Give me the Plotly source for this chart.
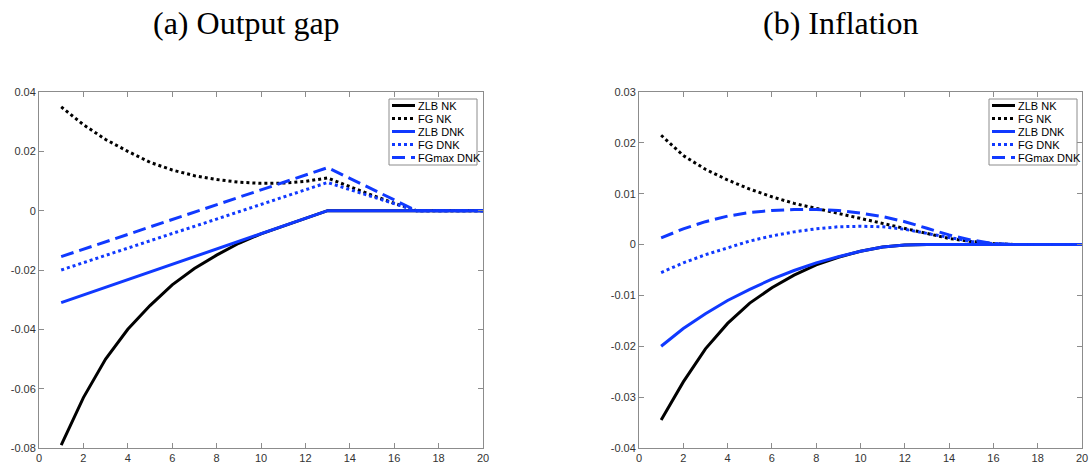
import plotly.graph_objects as go
from plotly.subplots import make_subplots

periods = list(range(1, 21))

# (a) Output gap
gap_zlb_nk = [-0.079, -0.063, -0.050, -0.040, -0.032, -0.025, -0.0195, -0.0150, -0.0110, -0.0078,
              -0.0052, -0.0026, 0, 0, 0, 0, 0, 0, 0, 0]
gap_fg_nk = [0.035, 0.029, 0.024, 0.020, 0.0163, 0.0137, 0.0118, 0.0105, 0.0096, 0.0092,
             0.0093, 0.0099, 0.0110, 0.0080, 0.0052, 0.0025, 0, 0, 0, 0]
gap_zlb_dnk = [-0.0310, -0.0284, -0.0258, -0.0233, -0.0207, -0.0181, -0.0155, -0.0129, -0.0103, -0.0078,
               -0.0052, -0.0026, 0, 0, 0, 0, 0, 0, 0, 0]
gap_fg_dnk = [-0.0200, -0.0175, -0.0151, -0.0126, -0.0102, -0.0077, -0.0053, -0.0028, -0.0004, 0.0021,
              0.0045, 0.0070, 0.0095, 0.0071, 0.0048, 0.0024, 0, 0, 0, 0]
gap_fgmax_dnk = [-0.0155, -0.0130, -0.0105, -0.0080, -0.0055, -0.0030, -0.0005, 0.0020, 0.0045, 0.0070,
                 0.0095, 0.0120, 0.0145, 0.0109, 0.0073, 0.0036, 0, 0, 0, 0]

# (b) Inflation
inf_zlb_nk = [-0.0345, -0.0270, -0.0205, -0.0155, -0.0115, -0.0085, -0.0060, -0.0040, -0.0025, -0.0013,
              -0.0005, -0.0001, 0, 0, 0, 0, 0, 0, 0, 0]
inf_fg_nk = [0.0215, 0.0175, 0.0148, 0.0127, 0.0109, 0.0094, 0.0081, 0.0071, 0.0061, 0.0051,
             0.0041, 0.0031, 0.0021, 0.0012, 0.0006, 0.0002, 0, 0, 0, 0]
inf_zlb_dnk = [-0.0200, -0.0165, -0.0136, -0.0110, -0.0088, -0.0068, -0.0051, -0.0036, -0.0024, -0.0013,
               -0.0005, -0.0001, 0, 0, 0, 0, 0, 0, 0, 0]
inf_fg_dnk = [-0.0055, -0.0036, -0.0020, -0.0006, 0.0007, 0.0017, 0.0025, 0.0031, 0.0035, 0.0036,
              0.0035, 0.0030, 0.0022, 0.0013, 0.0006, 0.0002, 0, 0, 0, 0]
inf_fgmax_dnk = [0.0013, 0.0031, 0.0045, 0.0056, 0.0063, 0.0067, 0.0069, 0.0069, 0.0067, 0.0062,
                 0.0055, 0.0045, 0.0032, 0.0019, 0.0009, 0.0002, 0, 0, 0, 0]

names = ["ZLB NK", "FG NK", "ZLB DNK", "FG DNK", "FGmax DNK"]
colors = ["black", "black", "#1039ff", "#1039ff", "#1039ff"]
dashes = ["solid", "3px,3px", "solid", "3px,3px", "13px,6px"]

x_ticks = list(range(0, 21, 2))
gap_ticks = [-0.08, -0.06, -0.04, -0.02, 0, 0.02, 0.04]
gap_labels = ["-0.08", "-0.06", "-0.04", "-0.02", "0", "0.02", "0.04"]
inf_ticks = [-0.04, -0.03, -0.02, -0.01, 0, 0.01, 0.02, 0.03]
inf_labels = ["-0.04", "-0.03", "-0.02", "-0.01", "0", "0.01", "0.02", "0.03"]

W, H = 1089, 467
fig = make_subplots(rows=1, cols=2)

gap_series = [gap_zlb_nk, gap_fg_nk, gap_zlb_dnk, gap_fg_dnk, gap_fgmax_dnk]
inf_series = [inf_zlb_nk, inf_fg_nk, inf_zlb_dnk, inf_fg_dnk, inf_fgmax_dnk]
for col, series in [(1, gap_series), (2, inf_series)]:
    for i in range(5):
        fig.add_trace(go.Scatter(x=periods, y=series[i], name=names[i], mode="lines",
                                 line=dict(color=colors[i], dash=dashes[i], width=3),
                                 showlegend=False), row=1, col=col)

axis_style = dict(showline=True, linecolor="#8c8c8c", linewidth=1, mirror="ticks",
                  ticks="inside", ticklen=5, tickcolor="#8c8c8c", showgrid=False,
                  zeroline=False, automargin=False,
                  tickfont=dict(family="Liberation Sans, Arial", size=11, color="#333"))

fig.update_xaxes(range=[0, 20], tickvals=x_ticks, **axis_style)
fig.update_xaxes(domain=[39 / W, 483 / W], row=1, col=1)
fig.update_xaxes(domain=[639 / W, 1082 / W], row=1, col=2)
fig.update_yaxes(domain=[(H - 448) / H, (H - 92) / H], **axis_style)
fig.update_yaxes(range=[-0.08, 0.04], tickvals=gap_ticks, ticktext=gap_labels, row=1, col=1)
fig.update_yaxes(range=[-0.04, 0.03], tickvals=inf_ticks, ticktext=inf_labels, row=1, col=2)

# MATLAB-style compact legend boxes (plotly's legend rows are too tall)
shapes = []
annotations = []
for left in [389, 989]:
    shapes.append(dict(type="rect", xref="paper", yref="paper", layer="above",
                       x0=left / W, x1=(left + 88) / W, y0=(H - 165) / H, y1=(H - 99) / H,
                       fillcolor="white", line=dict(color="#8c8c8c", width=1)))
    for i in range(5):
        yy = (H - (105.5 + 13 * i)) / H
        shapes.append(dict(type="line", xref="paper", yref="paper", layer="above",
                           x0=(left + 3) / W, x1=(left + 26) / W, y0=yy, y1=yy,
                           line=dict(color=colors[i], dash=dashes[i], width=3)))
        annotations.append(dict(text=names[i], x=(left + 27) / W, y=yy, xref="paper", yref="paper",
                                xanchor="left", yanchor="middle", showarrow=False,
                                font=dict(family="Liberation Sans, Arial", size=11, color="black")))

for txt, cx in [("(a) Output gap", 246), ("(b) Inflation", 841)]:
    annotations.append(dict(text=txt, x=cx / W, y=(H - 23) / H, xref="paper", yref="paper",
                            xanchor="center", yanchor="middle", showarrow=False,
                            font=dict(family="Liberation Serif", size=32, color="black")))

fig.update_layout(
    width=W, height=H,
    margin=dict(l=0, r=0, t=0, b=0),
    plot_bgcolor="white", paper_bgcolor="white",
    showlegend=False,
    shapes=shapes,
    annotations=annotations,
)

# drop the default page margin so the figure sits at the window's corner
fig.write_html("out.html", config={"displayModeBar": False},
               post_script="document.body.style.margin='0';")
